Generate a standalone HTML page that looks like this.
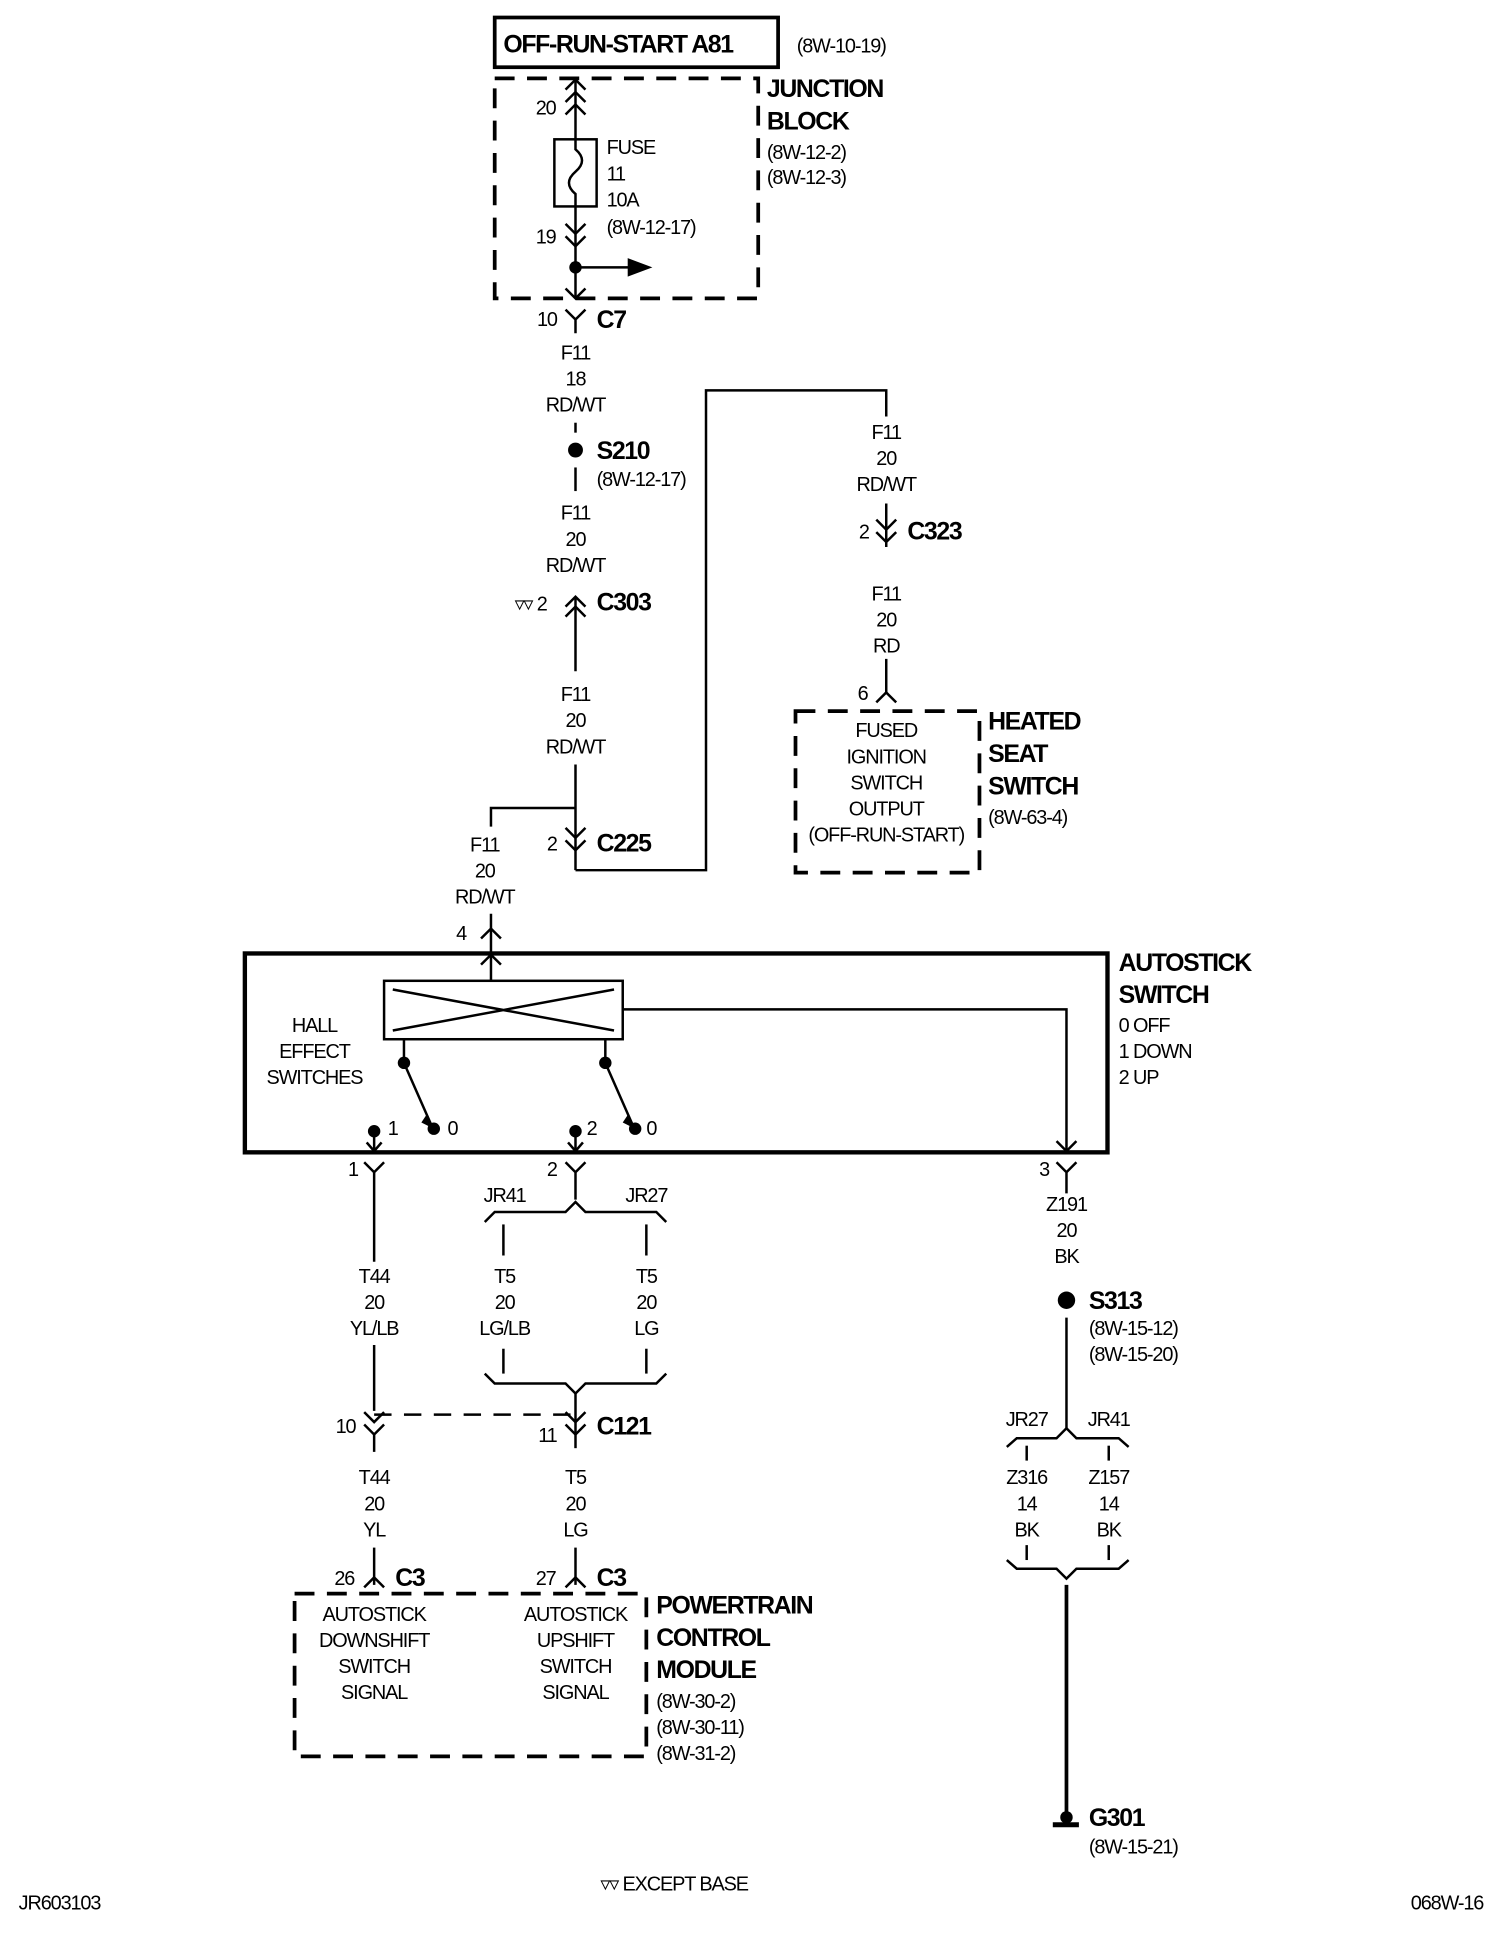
<!DOCTYPE html>
<html><head><meta charset="utf-8"><style>
html,body{margin:0;padding:0;background:#fff;}
svg{display:block;}
text{font-family:"Liberation Sans Narrow","Liberation Sans",sans-serif;fill:#000;font-size:16px;letter-spacing:-0.9px;}
.b{font-weight:bold;font-size:20px;letter-spacing:-1.1px;}
.c{text-anchor:middle;}
</style></head><body>
<svg width="1504" height="1938" viewBox="0 0 1210 1559" xmlns="http://www.w3.org/2000/svg">
<g stroke="#000" fill="none" stroke-width="2">
<rect x="398" y="14" width="228" height="40" stroke-width="3"/>
<rect x="398" y="63" width="212" height="177" stroke-width="3" stroke-dasharray="16,10"/>
<line x1="463" y1="62" x2="463" y2="112"/>
<path d="M455,72 L463,64 L471,72 M455,82 L463,74 L471,82 M455,92 L463,84 L471,92"/>
<rect x="446" y="112" width="34" height="54"/>
<path d="M463,112 L463,120 C470,126 470,132 463,138 C456,144 456,150 463,156 L463,166"/>
<line x1="463" y1="166" x2="463" y2="240"/>
<path d="M455,180 L463,188 L471,180 M455,190 L463,198 L471,190"/>
<line x1="463" y1="215" x2="508" y2="215"/>
<path d="M506,209 L522,215 L506,221 Z" fill="#000"/>
<path d="M455,232 L463,240 L471,232"/>
<path d="M455,249 L463,257 L471,249 M463,257 L463,268"/>
<line x1="463" y1="340" x2="463" y2="348"/>
<line x1="463" y1="376" x2="463" y2="395"/>
<path d="M455,488 L463,480 L471,488 M455,496 L463,488 L471,496"/>
<line x1="463" y1="480" x2="463" y2="540"/>
<line x1="463" y1="615" x2="463" y2="700"/>
<path d="M455,666 L463,674 L471,666 M455,676 L463,684 L471,676"/>
<path d="M463,700 L568,700 L568,314 L713,314 L713,335"/>
<path d="M463,650 L395,650 L395,665"/>
<line x1="713" y1="405" x2="713" y2="440"/>
<path d="M705,418 L713,426 L721,418 M705,428 L713,436 L721,428"/>
<line x1="713" y1="530" x2="713" y2="558"/>
<path d="M705,565 L713,557 L721,565"/>
<rect x="640" y="572" width="148" height="130" stroke-width="3" stroke-dasharray="16,10"/>
<line x1="395" y1="735" x2="395" y2="790"/>
<path d="M387,755 L395,747 L403,755"/>
<path d="M387,776 L395,768 L403,776"/>
<rect x="197" y="767" width="694" height="160" stroke-width="3.5"/>
<rect x="309" y="789" width="192" height="47"/>
<path d="M316,796 L494,829 M316,829 L494,796"/>
<path d="M501,812 L858,812 L858,927"/>
<path d="M850,918 L858,926 L866,918"/>
<path d="M325,836 L325,855 L347,905 M487,836 L487,855 L509,905"/>
<path d="M301,910 L301,926 M463,910 L463,926 M295,919 L301,926 L307,919 M457,919 L463,926 L469,919"/>
<path d="M293,935 L301,943 L309,935 M301,943 L301,1015"/>
<line x1="301" y1="1082" x2="301" y2="1135"/>
<path d="M455,935 L463,943 L471,935 M463,943 L463,965"/>
<path d="M850,935 L858,943 L866,935 M858,943 L858,960"/>
<path d="M390,983 L398,975 L455,975 L463,967 L471,975 L528,975 L536,983"/>
<line x1="405" y1="985" x2="405" y2="1010"/>
<line x1="520" y1="985" x2="520" y2="1010"/>
<line x1="405" y1="1085" x2="405" y2="1105"/>
<line x1="520" y1="1085" x2="520" y2="1105"/>
<path d="M390,1105 L398,1113 L455,1113 L463,1121 L471,1113 L528,1113 L536,1105"/>
<line x1="463" y1="1121" x2="463" y2="1165"/>
<line x1="301" y1="1138" x2="463" y2="1138" stroke-dasharray="14,10"/>
<path d="M293,1136 L301,1144 L309,1136 M293,1146 L301,1154 L309,1146 M301,1154 L301,1168"/>
<path d="M455,1136 L463,1144 L471,1136 M455,1146 L463,1154 L471,1146"/>
<line x1="301" y1="1245" x2="301" y2="1275"/>
<line x1="463" y1="1245" x2="463" y2="1275"/>
<path d="M293,1277 L301,1269 L309,1277 M455,1277 L463,1269 L471,1277"/>
<rect x="237" y="1282" width="283" height="131" stroke-width="3" stroke-dasharray="16,10"/>
<line x1="858" y1="1060" x2="858" y2="1150"/>
<path d="M810,1164 L818,1157 L850,1157 L858,1149 L866,1157 L900,1157 L908,1164"/>
<line x1="826" y1="1163" x2="826" y2="1175"/>
<line x1="892" y1="1163" x2="892" y2="1175"/>
<line x1="826" y1="1243" x2="826" y2="1255"/>
<line x1="892" y1="1243" x2="892" y2="1255"/>
<path d="M810,1255 L818,1262 L850,1262 L858,1270 L866,1262 L900,1262 L908,1255"/>
<line x1="858" y1="1275" x2="858" y2="1466" stroke-width="3"/>
<line x1="847" y1="1468" x2="868" y2="1468" stroke-width="4"/>
</g>
<g fill="#000">
<circle cx="463" cy="215" r="5"/>
<circle cx="463" cy="362" r="6"/>
<circle cx="325" cy="855" r="5"/><circle cx="349" cy="908" r="5"/>
<circle cx="487" cy="855" r="5"/><circle cx="511" cy="908" r="5"/>
<circle cx="301" cy="910" r="5"/><circle cx="463" cy="910" r="5"/>
<circle cx="858" cy="1046" r="7"/>
<path d="M343,897 L349,908 L339,903Z"/><path d="M505,897 L511,908 L501,903Z"/>
<circle cx="858" cy="1462" r="5"/>
</g>
<text x="405" y="42" class="b">OFF-RUN-START A81</text>
<text x="641" y="42">(8W-10-19)</text>
<text x="617" y="78" class="b">JUNCTION</text>
<text x="617" y="104" class="b">BLOCK</text>
<text x="617" y="128">(8W-12-2)</text>
<text x="617" y="148">(8W-12-3)</text>
<text x="431" y="92">20</text>
<text x="488" y="124">FUSE</text>
<text x="488" y="145">11</text>
<text x="488" y="166">10A</text>
<text x="488" y="188">(8W-12-17)</text>
<text x="431" y="196">19</text>
<text x="432" y="262">10</text>
<text x="480" y="264" class="b">C7</text>
<g>
<text x="463" y="289" class="c">F11</text><text x="463" y="310" class="c">18</text><text x="463" y="331" class="c">RD/WT</text>
<text x="463" y="418" class="c">F11</text><text x="463" y="439" class="c">20</text><text x="463" y="460" class="c">RD/WT</text>
<text x="463" y="564" class="c">F11</text><text x="463" y="585" class="c">20</text><text x="463" y="606" class="c">RD/WT</text>
<text x="713" y="353" class="c">F11</text><text x="713" y="374" class="c">20</text><text x="713" y="395" class="c">RD/WT</text>
<text x="713" y="483" class="c">F11</text><text x="713" y="504" class="c">20</text><text x="713" y="525" class="c">RD</text>
<text x="390" y="685" class="c">F11</text><text x="390" y="706" class="c">20</text><text x="390" y="727" class="c">RD/WT</text>
<text x="713" y="593" class="c">FUSED</text><text x="713" y="614" class="c">IGNITION</text><text x="713" y="635" class="c">SWITCH</text><text x="713" y="656" class="c">OUTPUT</text><text x="713" y="677" class="c">(OFF-RUN-START)</text>
<text x="253" y="830" class="c">HALL</text><text x="253" y="851" class="c">EFFECT</text><text x="253" y="872" class="c">SWITCHES</text>
<text x="301" y="1032" class="c">T44</text><text x="301" y="1053" class="c">20</text><text x="301" y="1074" class="c">YL/LB</text>
<text x="406" y="1032" class="c">T5</text><text x="406" y="1053" class="c">20</text><text x="406" y="1074" class="c">LG/LB</text>
<text x="520" y="1032" class="c">T5</text><text x="520" y="1053" class="c">20</text><text x="520" y="1074" class="c">LG</text>
<text x="406" y="967" class="c">JR41</text><text x="520" y="967" class="c">JR27</text>
<text x="301" y="1194" class="c">T44</text><text x="301" y="1215" class="c">20</text><text x="301" y="1236" class="c">YL</text>
<text x="463" y="1194" class="c">T5</text><text x="463" y="1215" class="c">20</text><text x="463" y="1236" class="c">LG</text>
<text x="301" y="1304" class="c">AUTOSTICK</text><text x="301" y="1325" class="c">DOWNSHIFT</text><text x="301" y="1346" class="c">SWITCH</text><text x="301" y="1367" class="c">SIGNAL</text>
<text x="463" y="1304" class="c">AUTOSTICK</text><text x="463" y="1325" class="c">UPSHIFT</text><text x="463" y="1346" class="c">SWITCH</text><text x="463" y="1367" class="c">SIGNAL</text>
<text x="858" y="974" class="c">Z191</text><text x="858" y="995" class="c">20</text><text x="858" y="1016" class="c">BK</text>
<text x="826" y="1147" class="c">JR27</text><text x="892" y="1147" class="c">JR41</text>
<text x="826" y="1194" class="c">Z316</text><text x="826" y="1215" class="c">14</text><text x="826" y="1236" class="c">BK</text>
<text x="892" y="1194" class="c">Z157</text><text x="892" y="1215" class="c">14</text><text x="892" y="1236" class="c">BK</text>
</g>
<text x="480" y="369" class="b">S210</text>
<text x="480" y="391">(8W-12-17)</text>
<text x="414" y="491">▿▿ 2</text>
<text x="480" y="491" class="b">C303</text>
<text x="440" y="684">2</text>
<text x="480" y="685" class="b">C225</text>
<text x="691" y="433">2</text>
<text x="730" y="434" class="b">C323</text>
<text x="690" y="563">6</text>
<text x="795" y="587" class="b">HEATED</text>
<text x="795" y="613" class="b">SEAT</text>
<text x="795" y="639" class="b">SWITCH</text>
<text x="795" y="663">(8W-63-4)</text>
<text x="367" y="756">4</text>
<text x="900" y="781" class="b">AUTOSTICK</text>
<text x="900" y="807" class="b">SWITCH</text>
<text x="900" y="830">0 OFF</text>
<text x="900" y="851">1 DOWN</text>
<text x="900" y="872">2 UP</text>
<text x="312" y="913">1</text><text x="360" y="913">0</text>
<text x="472" y="913">2</text><text x="520" y="913">0</text>
<text x="280" y="946">1</text><text x="440" y="946">2</text><text x="836" y="946">3</text>
<text x="270" y="1153">10</text>
<text x="433" y="1160">11</text>
<text x="480" y="1154" class="b">C121</text>
<text x="269" y="1275">26</text><text x="318" y="1276" class="b">C3</text>
<text x="431" y="1275">27</text><text x="480" y="1276" class="b">C3</text>
<text x="528" y="1298" class="b">POWERTRAIN</text>
<text x="528" y="1324" class="b">CONTROL</text>
<text x="528" y="1350" class="b">MODULE</text>
<text x="528" y="1374">(8W-30-2)</text>
<text x="528" y="1395">(8W-30-11)</text>
<text x="528" y="1416">(8W-31-2)</text>
<text x="876" y="1053" class="b">S313</text>
<text x="876" y="1074">(8W-15-12)</text>
<text x="876" y="1095">(8W-15-20)</text>
<text x="876" y="1469" class="b">G301</text>
<text x="876" y="1491">(8W-15-21)</text>
<text x="483" y="1521">▿▿ EXCEPT BASE</text>
<text x="15" y="1536">JR603103</text>
<text x="1135" y="1536">068W-16</text>
</svg>
</body></html>
